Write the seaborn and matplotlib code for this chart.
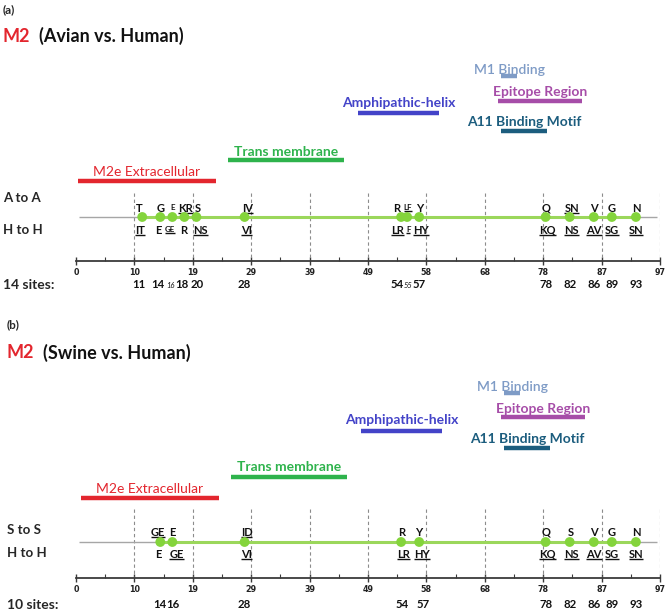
#!/usr/bin/env python3
"""
M2 protein: host-specific amino acid sites (Avian / Swine vs. Human).
"""
import matplotlib
matplotlib.use('Agg')
import matplotlib.pyplot as plt
import seaborn as sns
import numpy as np

# ---- data ---------------------------------------------------------------
region_names = ['M1 Binding', 'Epitope Region', 'Amphipathic-helix',
                'A11 Binding Motif', 'Trans membrane', 'M2e Extracellular']
region_start = [70.6, 70.1, 46.8, 70.6, 25.2, 0.3]
region_end = [73.3, 84.1, 60.3, 78.2, 44.5, 23.3]
region_colors = ['#7E9BC6', '#A64DA8', '#4343C8', '#1C5D7E', '#2EB34C', '#E3262E']
region_weights = ['semibold', 'bold', 'bold', 'bold', 'bold', 'normal']

protein_length = 97

avian_sites = [11, 14, 16, 18, 20, 28, 54, 55, 57, 78, 82, 86, 89, 93]
avian_top = ['T', 'G', 'E', 'KR', 'S', 'IV', 'R', 'LF', 'Y', 'Q', 'SN', 'V', 'G', 'N']
avian_top_marked = [0, 0, 0, 1, 0, 1, 0, 1, 0, 0, 1, 0, 0, 0]
avian_bottom = ['IT', 'E', 'GE', 'R', 'NS', 'VI', 'LR', 'F', 'HY', 'KQ', 'NS', 'AV', 'SG', 'SN']
avian_bottom_marked = [1, 0, 1, 0, 1, 1, 1, 1, 1, 1, 1, 1, 1, 1]
avian_minor = [16, 55]

swine_sites = [14, 16, 28, 54, 57, 78, 82, 86, 89, 93]
swine_top = ['GE', 'E', 'ID', 'R', 'Y', 'Q', 'S', 'V', 'G', 'N']
swine_top_marked = [1, 0, 1, 0, 0, 0, 0, 0, 0, 0]
swine_bottom = ['E', 'GE', 'VI', 'LR', 'HY', 'KQ', 'NS', 'AV', 'SG', 'SN']
swine_bottom_marked = [0, 1, 1, 1, 1, 1, 1, 1, 1, 1]
swine_minor = []

# ---- layout (pixel rows, figure 670 x 612) --------------------------------
W, H = 670, 612
AX_LEFT, AX_RIGHT = 76, 660
PX_PER_UNIT = (AX_RIGHT - AX_LEFT) / protein_length

# label nudges in pixels: site -> (top dx, bottom dx, number dx)
avian_nudge = {11: (-3, -2, -3), 14: (0, -2, -3), 16: (0, -2, -2), 18: (1, -1, -3),
               20: (1, 4, 1), 28: (3, 2, 0), 54: (-4, -4, -4), 55: (1, 1, 1),
               57: (1, 2, 0), 78: (0, 2, 0), 82: (2, 2, 0)}
swine_nudge = {14: (-2, -2, -1), 16: (0, 4, 1), 28: (2, 2, 0), 54: (1, 2, 1),
               57: (0, 3, 4), 78: (0, 2, 0), 82: (1, 2, 0)}

panels = [
    dict(tag='(a)', host='(Avian vs. Human)', top_label='A to A',
         sites=avian_sites, top=avian_top, top_m=avian_top_marked,
         bottom=avian_bottom, bottom_m=avian_bottom_marked, minor=avian_minor,
         nudge=avian_nudge,
         y0=0, axis_y=261, line_y=217, top_y=208, bot_y=230, num_y=285,
         dash_top=193, tag_y=10, title_y=36, left_x=3, title_x2=39,
         region_text_y=[70, 92, 103, 122, 152, 172],
         region_bar_y=[76, 101, 113, 131, 160, 181], shift=0.0,
         lab_top_y=198, lab_bot_y=230),
    dict(tag='(b)', host='(Swine vs. Human)', top_label='S to S',
         sites=swine_sites, top=swine_top, top_m=swine_top_marked,
         bottom=swine_bottom, bottom_m=swine_bottom_marked, minor=swine_minor,
         nudge=swine_nudge,
         y0=305, axis_y=578, line_y=542, top_y=532, bot_y=554, num_y=605,
         dash_top=509, tag_y=325, title_y=353, left_x=7, title_x2=43,
         region_text_y=[387, 409, 420, 439, 467, 489],
         region_bar_y=[393, 417, 431, 448, 477, 498], shift=0.5,
         lab_top_y=530, lab_bot_y=553),
]

sns.set_theme(style='white')
plt.rcParams['font.family'] = ['Lato', 'DejaVu Sans']

fig = plt.figure(figsize=(W / 100, H / 100), dpi=100)
fig.patch.set_facecolor('white')

underlined = []

for p in panels:
    ax = fig.add_axes([AX_LEFT / W, 1 - p['axis_y'] / H,
                       (AX_RIGHT - AX_LEFT) / W, (p['axis_y'] - p['y0']) / H])
    ax.set_xlim(0, protein_length)
    ax.set_ylim(p['axis_y'], p['y0'])
    ax.patch.set_alpha(0)
    for s in ['top', 'left', 'right']:
        ax.spines[s].set_visible(False)
    ax.spines['bottom'].set_color('#3a3a3a')
    ax.spines['bottom'].set_linewidth(1.3)

    ticks = np.linspace(0, protein_length, 11)
    ax.set_xticks(ticks)
    ax.set_xticklabels([str(int(np.floor(t + 0.5))) for t in ticks],
                       fontfamily='DejaVu Sans', fontweight='bold', fontsize=5.8,
                       color='#222222')
    ax.set_xticks((ticks[:-1] + ticks[1:]) / 2, minor=True)
    ax.tick_params(axis='x', which='major', direction='inout', length=6,
                   width=1.0, color='#3a3a3a', pad=2, bottom=True)
    ax.tick_params(axis='x', which='minor', direction='in', length=3,
                   width=0.8, color='#3a3a3a', bottom=True)
    ax.set_yticks([])

    # dashed guides
    ax.vlines(ticks[1:], p['dash_top'], p['axis_y'], colors='#8c8c8c',
              linestyles=(0, (3, 2.5)), linewidth=0.8)

    # regions
    for name, x0, x1, col, wt, ty, by in zip(region_names, region_start, region_end,
                                               region_colors, region_weights,
                                               p['region_text_y'], p['region_bar_y']):
        x0, x1 = x0 + p['shift'], x1 + p['shift']
        ax.plot([x0, x1], [by, by], color=col, linewidth=3.2, solid_capstyle='butt')
        ax.text((x0 + x1) / 2, ty, name, color=col, fontsize=10, fontweight=wt,
                ha='center', va='center')

    # backbone
    sites = p['sites']
    ax.hlines(p['line_y'], 0.5, 96.5, colors='#a6a6a6', linewidth=1.0)
    ax.hlines(p['line_y'], min(sites), max(sites), colors='#9BD75B', linewidth=2.2)
    sns.scatterplot(x=sites, y=[p['line_y']] * len(sites), ax=ax, s=50,
                    color='#84D43C', edgecolor='none', zorder=5, legend=False)

    # residue labels
    for x, t, tm, b, bm in zip(sites, p['top'], p['top_m'], p['bottom'], p['bottom_m']):
        small = x in p['minor']
        dt, db, dn = [d / PX_PER_UNIT for d in p['nudge'].get(x, (0, 0, 0))]
        fs = 5.8 if small else 8
        t1 = ax.text(x + dt, p['top_y'], t, ha='center', va='center', fontsize=fs,
                     fontweight='bold', color='#111111')
        t2 = ax.text(x + db, p['bot_y'], b, ha='center', va='center', fontsize=fs,
                     fontweight='bold', color='#111111')
        if tm:
            underlined.append((ax, t1))
        if bm:
            underlined.append((ax, t2))
        ax.text(x + dn, p['num_y'], str(x), ha='center', va='center',
                fontsize=5.5 if small else 8.2, fontweight='normal' if small else 'bold',
                fontstyle='italic' if small else 'normal', color='#111111',
                clip_on=False)

    # left-side labels and titles
    lx = p['left_x'] / W
    fig.text(lx, 1 - p['tag_y'] / H, p['tag'], fontsize=8.5, fontweight='bold',
             va='center', ha='left')
    fig.text(lx, 1 - p['title_y'] / H, 'M2', fontsize=13, fontweight='bold',
             color='#E3262E', va='center', ha='left')
    fig.text(p['title_x2'] / W, 1 - p['title_y'] / H, p['host'], fontsize=13,
             fontweight='bold', color='#111111', va='center', ha='left')
    fig.text(lx, 1 - p['lab_top_y'] / H, p['top_label'], fontsize=9.5,
             fontweight='bold', va='center', ha='left')
    fig.text(lx, 1 - p['lab_bot_y'] / H, 'H to H', fontsize=9.5,
             fontweight='bold', va='center', ha='left')
    fig.text(lx, 1 - p['num_y'] / H, f'{len(sites)} sites:', fontsize=10,
             fontweight='bold', va='center', ha='left')

# underline marked residues
fig.canvas.draw()
renderer = fig.canvas.get_renderer()
for ax, t in underlined:
    bb = t.get_window_extent(renderer)
    inv = ax.transData.inverted()
    (xa, ya), (xb, _) = inv.transform([(bb.x0, bb.y0 + 0.5), (bb.x1, bb.y0)])
    ax.plot([xa, xb], [ya, ya], color='#111111', linewidth=1.0,
            solid_capstyle='butt', clip_on=False)

fig.savefig('out.png', dpi=100)
